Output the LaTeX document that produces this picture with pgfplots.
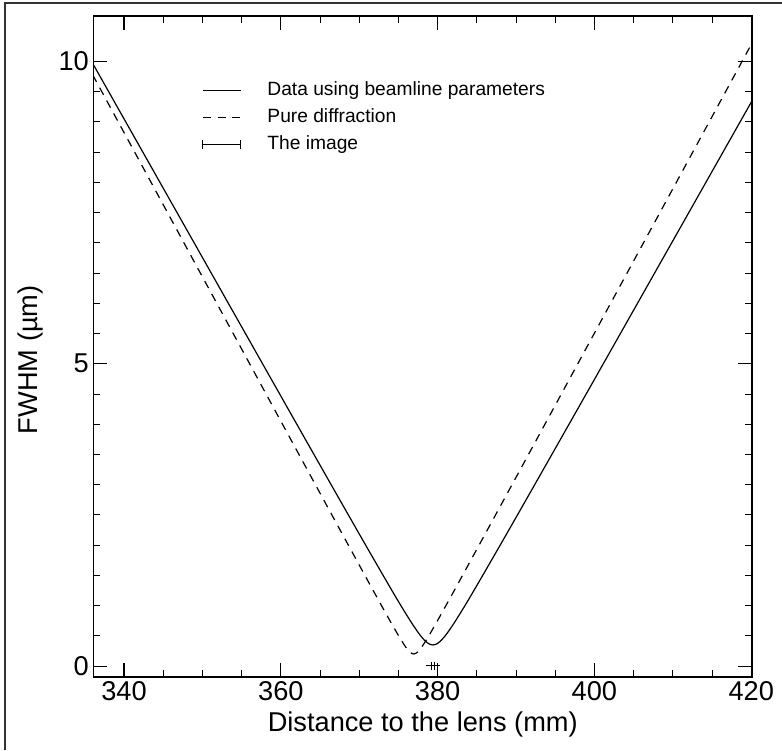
\documentclass[border=0pt]{standalone}
\usepackage{fontspec}
\setmainfont{Liberation Sans}
\usepackage{pgfplots}
\pgfplotsset{compat=1.18}
\begin{document}
\begin{tikzpicture}
\useasboundingbox (0,0) rectangle (586.5pt,562.5pt);
\draw[line width=0.8pt, black!80] (3.75pt,0pt) -- (3.75pt,560.25pt) -- (586.5pt,560.25pt);
\begin{axis}[
  at={(70.1pt,54.75pt)}, anchor=south west,
  scale only axis, width=493.9pt, height=495.75pt,
  xmin=336.1, xmax=420.1, ymin=-0.18, ymax=10.75,
  xtick={340,360,380,400,420}, minor x tick num=3,
  ytick={0,5,10}, minor y tick num=9,
  tick align=inside, major tick length=10.5pt, minor tick length=5pt,
  axis line style={line width=0.9pt},
  every tick/.style={black, line width=0.9pt},
  every minor tick/.style={black, line width=0.7pt},
  /pgf/number format/assume math mode=true,
  tick label style={font=\fontsize{20.4}{24}\selectfont},
  label style={font=\fontsize{20.4}{24}\selectfont},
  xlabel={Distance to the lens (mm)},
  ylabel={FWHM (µm)},
  xlabel style={at={(axis description cs:0.5,-0.0711)}, anchor=center},
  ylabel style={at={(axis description cs:-0.0964,0.48)}, anchor=center},
  clip=true,
  legend style={draw=none, fill=none, at={(rel axis cs:0.1648,0.9017)}, anchor=north west,
    inner sep=0pt, font=\fontsize{14.4}{17}\selectfont,
    nodes={inner sep=0pt, anchor=west, text height=10.5pt, text depth=3pt},
    row sep=6.75pt,
    /tikz/every odd column/.append style={column sep=19.5pt}},
  legend cell align=left,
  legend image code/.code={\draw[#1] (0pt,0pt) -- (28.5pt,0pt);},
]
\addplot[black, line width=0.9pt, smooth] coordinates {
(336.0,9.966) (359.4,4.603) (369.4,2.3216) (374.4,1.1997) (376.4,0.7724) (377.4,0.5772)
(377.9,0.4909) (378.4,0.4185) (378.9,0.3683) (379.4,0.35) (379.9,0.3683) (380.4,0.4185)
(380.9,0.4909) (381.4,0.5772) (382.4,0.7724) (384.4,1.1997) (389.4,2.3216) (399.4,4.603) (420.1,9.347)
};
\addlegendentry{Data using beamline parameters}
\addplot[black, line width=0.9pt, dash pattern=on 6pt off 5pt, smooth] coordinates {
(336.0,9.777) (356.95,4.778) (366.95,2.3954) (371.95,1.2101) (373.95,0.7435) (374.95,0.5176)
(375.45,0.4101) (375.95,0.3114) (376.45,0.2329) (376.95,0.2) (377.45,0.2329) (377.95,0.3114)
(378.45,0.4101) (378.95,0.5176) (379.95,0.7435) (381.95,1.2101) (386.95,2.3954) (396.95,4.778) (420.1,10.302)
};
\addlegendentry{Pure diffraction}
\addplot[black, line width=0.8pt, mark=none,
  legend image code/.code={
    \draw[black, line width=0.8pt] (0pt,-3.5pt) -- (0pt,3.5pt);
    \draw[black, line width=0.8pt] (0pt,0pt) -- (28.5pt,0pt);
    \draw[black, line width=0.8pt] (28.5pt,-3.5pt) -- (28.5pt,3.5pt);},
  error bars/.cd, x dir=both, x explicit, error mark=none,
  error bar style={line width=0.8pt}]
  coordinates {(379.4,0.005) +- (0.85,0)};
\addlegendentry{The image}
\addplot[black, line width=0.8pt, mark=none, forget plot,
  error bars/.cd, x dir=both, x explicit,
  error mark options={rotate=90, mark size=3pt, line width=0.8pt},
  error bar style={line width=0.8pt}]
  coordinates {(379.4,0.005) +- (0.2,0)};
\end{axis}
\end{tikzpicture}
\end{document}
